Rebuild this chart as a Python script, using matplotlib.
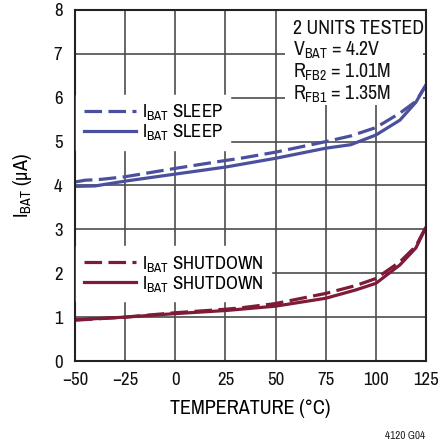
#!/usr/bin/python3

import matplotlib
matplotlib.use("Agg")
import matplotlib.pyplot as plt
from matplotlib.lines import Line2D
from matplotlib.patches import Rectangle


FONT = ["Archivo Narrow", "Liberation Sans", "DejaVu Sans"]
BLUE = "#4b509e"
RED = "#7f1b37"
GRID = "#4d4d4d"

# temperature (C) and battery current (uA)
sleep_dash_t = [-50, -45, -37, -25, 0, 25, 32.5, 50, 75, 87.5, 100, 112, 120, 125]
sleep_dash_i = [4.08, 4.12, 4.14, 4.20, 4.39, 4.57, 4.62, 4.76, 5.00, 5.13, 5.32, 5.65, 5.92, 6.29]

sleep_solid_t = [-50, -40, -25, 0, 25, 32.5, 50, 75, 87.5, 100, 112, 120, 125]
sleep_solid_i = [3.98, 3.99, 4.10, 4.26, 4.42, 4.48, 4.62, 4.85, 4.93, 5.15, 5.49, 5.90, 6.29]

shut_t = [-50, -25, 0, 25, 32.5, 50, 75, 90, 100, 112, 120, 125]
shut_dash_i = [0.93, 1.00, 1.10, 1.18, 1.21, 1.31, 1.54, 1.72, 1.88, 2.26, 2.62, 3.06]
shut_solid_i = [0.94, 1.00, 1.08, 1.15, 1.18, 1.25, 1.43, 1.62, 1.77, 2.19, 2.58, 3.05]

x_ticks = [-50, -25, 0, 25, 50, 75, 100, 125]
y_ticks = [0, 1, 2, 3, 4, 5, 6, 7, 8]

notes = ["2 UNITS TESTED",
         r"$\mathregular{V_{BAT}}$ = 4.2V",
         r"$\mathregular{R_{FB2}}$ = 1.01M",
         r"$\mathregular{R_{FB1}}$ = 1.35M"]


def main():
  plt.rcParams["font.family"] = FONT
  plt.rcParams["mathtext.fontset"] = "custom"
  plt.rcParams["mathtext.rm"] = FONT[0]
  plt.rcParams["axes.unicode_minus"] = True

  fig = plt.figure(figsize=(4.39, 4.44), dpi=100)
  ax = fig.add_axes([75 / 439, 83 / 444, 351 / 439, 351 / 444])

  dash = (0, (5.5, 2))
  lw = 2.3
  ax.plot(sleep_dash_t, sleep_dash_i, color=BLUE, lw=lw, ls=dash)
  ax.plot(sleep_solid_t, sleep_solid_i, color=BLUE, lw=lw)
  ax.plot(shut_t, shut_dash_i, color=RED, lw=lw, ls=dash)
  ax.plot(shut_t, shut_solid_i, color=RED, lw=lw)

  ax.set_xlim(-50, 125)
  ax.set_ylim(0, 8)
  ax.set_xticks(x_ticks)
  ax.set_yticks(y_ticks)
  ax.set_axisbelow(True)
  ax.grid(True, color=GRID, lw=1.2)
  ax.tick_params(length=0, labelsize=13.5, colors="#111111")
  ax.tick_params(axis="x", pad=8)
  ax.tick_params(axis="y", pad=9)
  for sp in ax.spines.values():
    sp.set_color("#222222")
    sp.set_linewidth(1.5)

  ax.set_xlabel("TEMPERATURE (°C)", fontsize=14.5, labelpad=8)
  ax.set_ylabel(r"$\mathregular{I_{BAT}}$ (µA)", fontsize=14.5, labelpad=14)

  def make_legend(color, text, top):
    handles = [Line2D([], [], color=color, lw=lw, ls=dash),
               Line2D([], [], color=color, lw=lw)]
    labels = [r"$\mathregular{I_{BAT}}$ " + text] * 2
    leg = ax.legend(handles, labels, loc="upper left", bbox_to_anchor=(0.003, top),
                    borderaxespad=0, frameon=True, fancybox=False, framealpha=1,
                    facecolor="white", edgecolor="white", fontsize=13.5,
                    handlelength=2.8, handletextpad=0.3, labelspacing=0.0,
                    borderpad=0.4)
    return leg

  leg1 = make_legend(BLUE, "SLEEP", 0.758)
  ax.add_artist(leg1)
  make_legend(RED, "SHUTDOWN", 0.327)

  ax.add_patch(Rectangle((210 / 351, (361 - 105) / 351), 138 / 351, 95 / 351,
                         transform=ax.transAxes, facecolor="white",
                         edgecolor="none", zorder=1))
  for k, line in enumerate(notes):
    y = (361 - 28 - 22 * k) / 351
    ax.text(218 / 351, y, line, transform=ax.transAxes, fontsize=14.3,
            va="center", ha="left", color="#111111", zorder=3)

  fig.text(425 / 439, 1 - 436 / 444, "4120 G04", fontsize=8, ha="right",
           va="center", color="#222222")

  fig.savefig("out.png", dpi=100)


if __name__ == "__main__":
  main()
